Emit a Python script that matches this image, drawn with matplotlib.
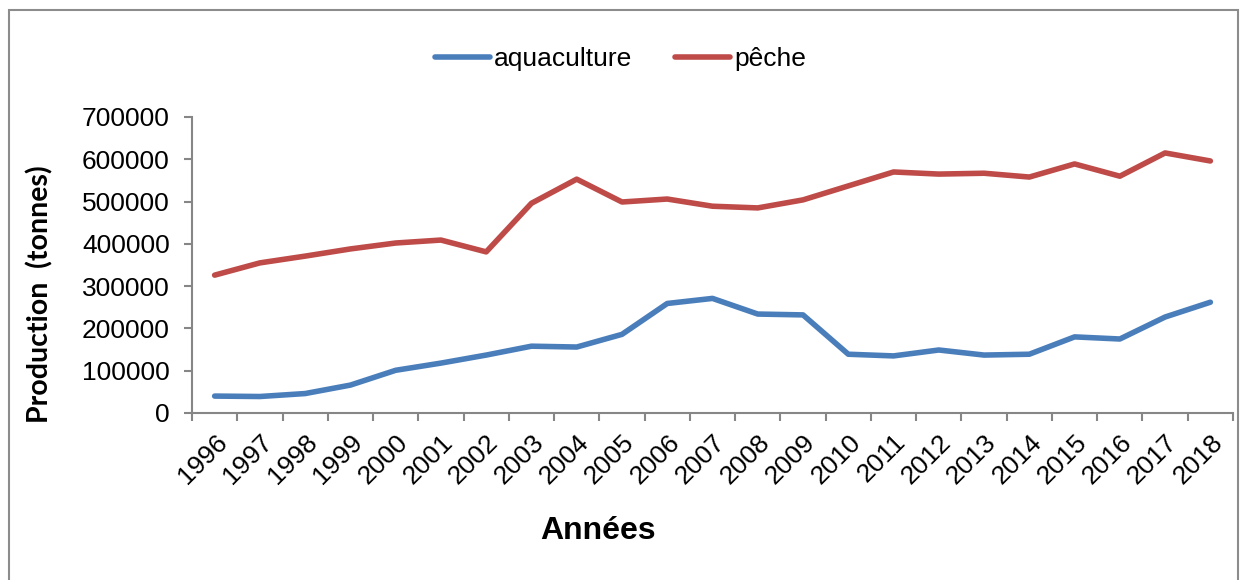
#!/usr/bin/env python3
"""Production aquaculture / pêche 1996-2018"""

import matplotlib
matplotlib.use("Agg")
import matplotlib.pyplot as plt
from matplotlib.patches import Rectangle
from matplotlib.ticker import FixedLocator, MultipleLocator

years = [str(y) for y in range(1996, 2019)]
aquaculture = [40000, 39000, 46000, 66000, 101000, 118000, 137000, 158000,
               156000, 186000, 259000, 271000, 234000, 232000, 139000, 135000,
               149000, 137000, 139000, 180000, 175000, 227000, 262000]
peche = [326000, 355000, 371000, 388000, 402000, 409000, 381000, 496000,
         553000, 499000, 506000, 489000, 485000, 504000, 537000, 570000,
         565000, 567000, 558000, 589000, 560000, 615000, 596000]

BLUE = "#4a7ebb"
RED = "#be4b48"
GREY = "#868686"

plt.rcParams["font.family"] = ["Liberation Sans", "DejaVu Sans"]

fig = plt.figure(figsize=(12.41, 5.8), dpi=100)
ax = fig.add_axes([192 / 1241, 1 - 413 / 580, (1233 - 192) / 1241, (413 - 117) / 580])

x = list(range(len(years)))
ax.plot(x, aquaculture, color=BLUE, lw=4, solid_capstyle="round",
        solid_joinstyle="round", label="aquaculture")
ax.plot(x, peche, color=RED, lw=4, solid_capstyle="round",
        solid_joinstyle="round", label="pêche")

ax.set_xlim(-0.5, len(years) - 0.5)
ax.set_ylim(0, 700000)
ax.yaxis.set_major_locator(MultipleLocator(100000))

# ticks between categories, labels at category centres (Excel style)
ax.xaxis.set_major_locator(FixedLocator([i - 0.5 for i in range(len(years) + 1)]))
ax.xaxis.set_minor_locator(FixedLocator(x))
ax.set_xticklabels([])
ax.set_xticklabels(years, minor=True, rotation=45, ha="right",
                   rotation_mode="anchor")
ax.tick_params(axis="x", which="minor", length=0, pad=12, labelsize=19)
ax.tick_params(axis="x", which="major", length=6, width=1.5, color=GREY)
ax.tick_params(axis="y", length=6, width=1.5, color=GREY, pad=10, labelsize=19)

for side in ("top", "right"):
    ax.spines[side].set_visible(False)
for side in ("left", "bottom"):
    ax.spines[side].set_color(GREY)
    ax.spines[side].set_linewidth(1.5)

fig.legend(loc="center", bbox_to_anchor=(0.5, 1 - 59 / 580), ncol=2,
           frameon=False, fontsize=19, handlelength=2.1, handletextpad=0.15,
           columnspacing=1.6)

fig.text(598 / 1241, 1 - 531 / 580, "Années", fontsize=23, fontweight="bold",
         ha="center", va="center")
fig.text(40 / 1241, 1 - 294 / 580, "Production  (tonnes)", fontsize=20.5,
         fontweight="bold", rotation=90, ha="center", va="center",
         family=["Lato", "DejaVu Sans"])

# light grey frame round the chart
fig.patches.append(Rectangle((9 / 1241, -0.1), (1238 - 9) / 1241, 1.1 - 10 / 580,
                             transform=fig.transFigure, fill=False,
                             edgecolor="#8c8c8c", lw=1.5))

fig.savefig("out.png", dpi=100)
